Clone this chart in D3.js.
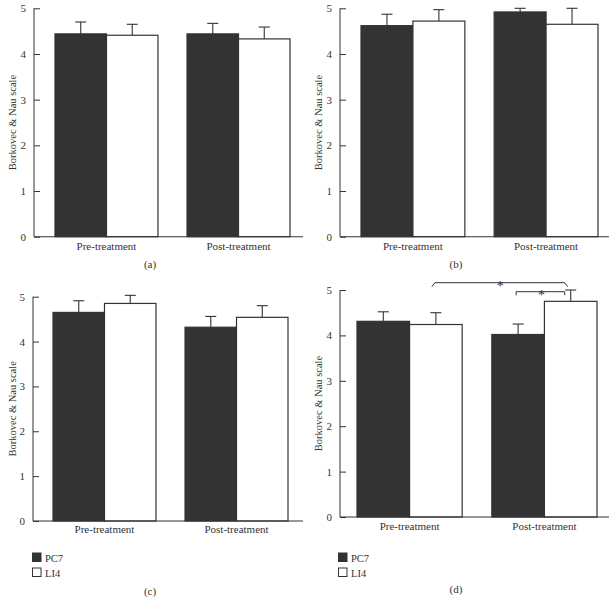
<!DOCTYPE html>
<html><head><meta charset="utf-8">
<script src="https://cdn.jsdelivr.net/npm/d3@7"></script>
<style>body{margin:0;background:#fff}svg{display:block}text{font-family:"Liberation Serif","DejaVu Serif",serif;fill:#333}</style>
</head><body><svg id="c" width="612" height="599"></svg>
<script>
const groups = ["Pre-treatment", "Post-treatment"];
const seriesNames = ["PC7", "LI4"];
const yTicks = [0, 1, 2, 3, 4, 5];
const panelLabels = ["(a)", "(b)", "(c)", "(d)"];
// means [pre, post] per series, per panel
const pc7Mean = [[4.44, 4.44], [4.62, 4.92], [4.65, 4.32], [4.31, 4.02]];
const pc7Err  = [[0.26, 0.23], [0.25, 0.08], [0.26, 0.24], [0.21, 0.23]];
const li4Mean = [[4.41, 4.33], [4.72, 4.65], [4.85, 4.54], [4.24, 4.75]];
const li4Err  = [[0.24, 0.26], [0.25, 0.35], [0.18, 0.26], [0.26, 0.25]];

const layout = [
  {ox:0,   oy:0,   ax:34, right:303, top:8.3,  bot:236.7, b0:55, b1:290, lab:250, sub:268, legend:false},
  {ox:306, oy:0,   ax:34, right:303, top:8.3,  bot:236.7, b0:55, b1:292, lab:250, sub:268, legend:false},
  {ox:0,   oy:280, ax:33, right:303, top:16.7, bot:241,   b0:53, b1:288, lab:253, sub:315, legend:true},
  {ox:306, oy:280, ax:34, right:303, top:10,   bot:237,   b0:51, b1:291, lab:250, sub:313, legend:true}
];
const ink = "#333";
const svg = d3.select("#c");

layout.forEach((L, i) => {
  const g = svg.append("g").attr("transform", `translate(${L.ox},${L.oy})`);
  const y = d3.scaleLinear().domain([0, 5]).range([L.bot, L.top]);
  const x0 = d3.scaleBand().domain(groups).range([L.b0, L.b1]).paddingInner(0.22).paddingOuter(0);
  const x1 = d3.scaleBand().domain(seriesNames).range([0, x0.bandwidth()]).padding(0);
  const data = groups.map((gname, gi) => ({g: gname, vals: [
    {s: "PC7", v: pc7Mean[i][gi], e: pc7Err[i][gi]},
    {s: "LI4", v: li4Mean[i][gi], e: li4Err[i][gi]}]}));

  // error bars (up only)
  data.forEach(d => d.vals.forEach(v => {
    const cx = x0(d.g) + x1(v.s) + x1.bandwidth() / 2;
    g.append("line").attr("x1", cx).attr("x2", cx).attr("y1", y(v.v)).attr("y2", y(v.v + v.e)).attr("stroke", ink).attr("stroke-width", 1.1);
    g.append("line").attr("x1", cx - 5.5).attr("x2", cx + 5.5).attr("y1", y(v.v + v.e)).attr("y2", y(v.v + v.e)).attr("stroke", ink).attr("stroke-width", 1.1);
  }));
  // bars
  data.forEach(d => d.vals.forEach(v => {
    g.append("rect").attr("x", x0(d.g) + x1(v.s)).attr("width", x1.bandwidth())
      .attr("y", y(v.v)).attr("height", y(0) - y(v.v))
      .attr("fill", v.s === "PC7" ? "#333" : "#fff").attr("stroke", ink).attr("stroke-width", 1.2);
  }));

  // y axis
  const ya = d3.axisLeft(y).tickValues(yTicks).tickSize(-6).tickPadding(8).tickFormat(d3.format("d"));
  const yg = g.append("g").attr("transform", `translate(${L.ax},0)`).call(ya);
  yg.select(".domain").attr("stroke", ink).attr("d", `M0,${L.bot}V${L.top}`);
  yg.selectAll(".tick line").attr("stroke", ink);
  yg.selectAll(".tick text").attr("font-size", 11).attr("fill", ink);
  // x axis line
  g.append("line").attr("x1", L.ax).attr("x2", L.right).attr("y1", L.bot).attr("y2", L.bot).attr("stroke", ink).attr("stroke-width", 1.1);
  const xa = d3.axisBottom(x0).tickSize(0).tickPadding(0);
  const xg = g.append("g").attr("transform", `translate(0,${L.lab})`).call(xa);
  xg.select(".domain").remove();
  xg.selectAll(".tick text").attr("font-size", 11).attr("fill", ink).attr("dy", 0);

  // y label
  g.append("text").attr("transform", `translate(16,${(L.top + L.bot) / 2}) rotate(-90)`)
    .attr("text-anchor", "middle").attr("font-size", 10.5).text("Borkovec & Nau scale");
  // panel label
  g.append("text").attr("x", 150).attr("y", L.sub).attr("text-anchor", "middle").attr("font-size", 11).text(panelLabels[i]);

  if (L.legend) {
    seriesNames.forEach((s, k) => {
      const ly = 273 + k * 15;
      g.append("rect").attr("x", 32.5).attr("y", ly).attr("width", 8.5).attr("height", 8.5)
        .attr("fill", s === "PC7" ? "#333" : "#fff").attr("stroke", ink).attr("stroke-width", 1);
      g.append("text").attr("x", 45).attr("y", ly + 8.5).attr("font-size", 10.5).text(s);
    });
  }

  if (i === 3) {
    // significance brackets
    const cLI4pre = x0("Pre-treatment") + x1("LI4") + x1.bandwidth() / 2;
    const cPC7post = x0("Post-treatment") + x1("PC7") + x1.bandwidth() / 2;
    const cLI4post = x0("Post-treatment") + x1("LI4") + x1.bandwidth() / 2;
    const bigY = 2.7, smallY = 11.7;
    g.append("path").attr("d", `M${cLI4pre - 4},${bigY + 4}L${cLI4pre - 1},${bigY}H${cLI4post - 6}L${cLI4post - 3},${bigY + 4}`)
      .attr("fill", "none").attr("stroke", ink).attr("stroke-width", 1);
    g.append("text").attr("x", (cLI4pre + cLI4post) / 2 - 3).attr("y", bigY + 8).attr("text-anchor", "middle").attr("font-size", 14).text("*");
    g.append("path").attr("d", `M${cPC7post - 2},${smallY + 3.5}V${smallY}H${cLI4post - 6}V${smallY + 3.5}`)
      .attr("fill", "none").attr("stroke", ink).attr("stroke-width", 1);
    g.append("text").attr("x", (cPC7post + cLI4post) / 2 - 3).attr("y", smallY + 8).attr("text-anchor", "middle").attr("font-size", 14).text("*");
  }
});
</script></body></html>
